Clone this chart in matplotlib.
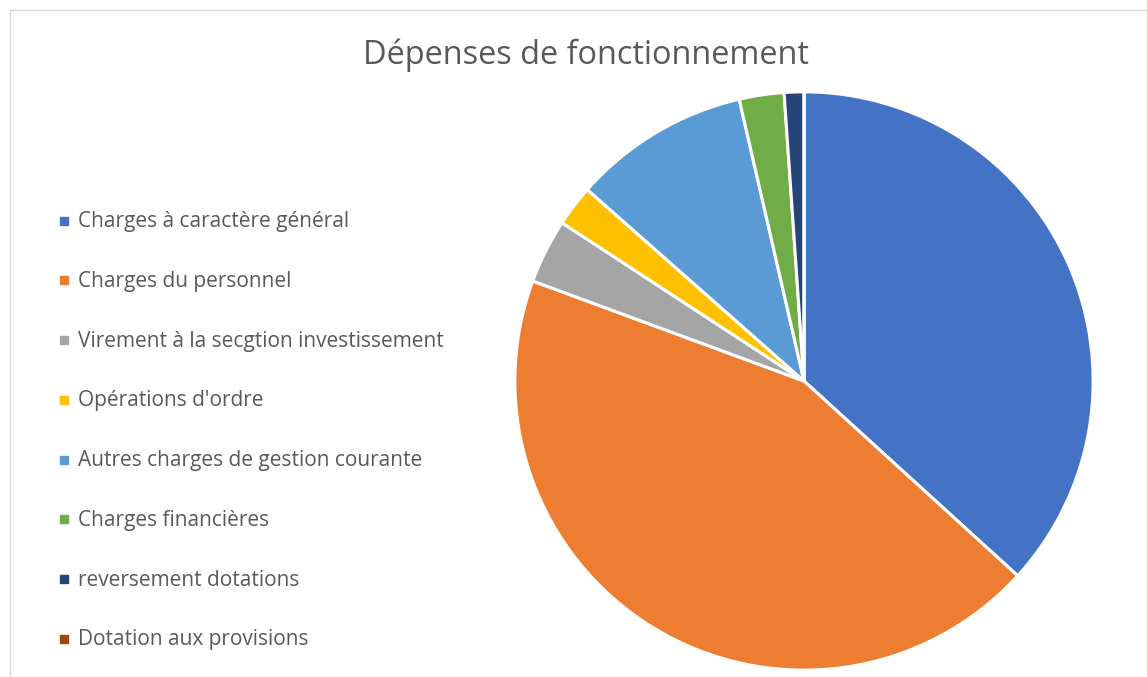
import matplotlib.pyplot as plt
from matplotlib.lines import Line2D

labels = ["Charges à caractère général", "Charges du personnel",
          "Virement à la secgtion investissement", "Opérations d'ordre",
          "Autres charges de gestion courante", "Charges financières",
          "reversement dotations", "Dotation aux provisions"]
values = [36.8, 43.9, 3.6, 2.3, 9.9, 2.5, 1.1, 0.0]
colors = ["#4472C4", "#ED7D31", "#A5A5A5", "#FFC000",
          "#5B9BD5", "#70AD47", "#264478", "#9E480E"]

plt.rcParams['font.family'] = ['Open Sans', 'DejaVu Sans']

W, H = 1147, 677
fig = plt.figure(figsize=(W / 100, H / 100), dpi=100)

# chart frame (only top / left edges visible in the crop)
fig.add_artist(Line2D([10 / W, 10 / W], [0, 1 - 10 / H], color="#D9D9D9", lw=1))
fig.add_artist(Line2D([10 / W, 1], [1 - 10 / H, 1 - 10 / H], color="#D9D9D9", lw=1))

cx, cy, r = 804, 381, 290
ax = fig.add_axes([(cx - r) / W, (H - cy - r) / H, 2 * r / W, 2 * r / H])
wedges, _ = ax.pie(values, colors=colors, startangle=90, counterclock=False,
                   wedgeprops=dict(edgecolor="white", linewidth=2.2))
ax.set_xlim(-1.003, 1.003)
ax.set_ylim(-1.003, 1.003)
ax.set_aspect("equal")
ax.axis("off")

fig.text(586 / W, 1 - 55 / H, "Dépenses de fonctionnement", ha="center", va="center",
         fontsize=23.4, color="#595959")

handles = [Line2D([], [], marker="s", linestyle="", markersize=5.8,
                  markerfacecolor=c, markeredgecolor=c) for c in colors]
fig.legend(handles, labels, loc="upper left", bbox_to_anchor=(60 / W, 1 - 211 / H),
           frameon=False, fontsize=15, labelspacing=1.86, handlelength=0.4,
           handleheight=0.4, handletextpad=0.45, borderpad=0, borderaxespad=0,
           labelcolor="#595959")

fig.savefig("out.png", dpi=100)
